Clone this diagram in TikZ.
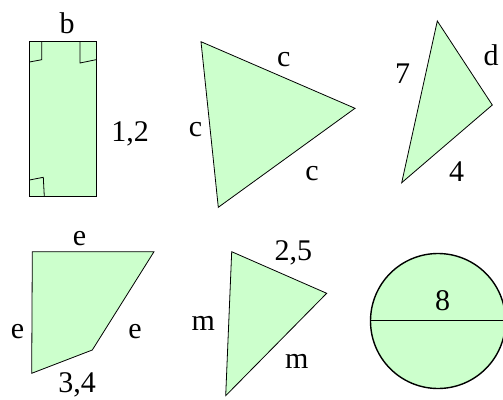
\documentclass[tikz,border=0pt]{standalone}
\usepackage{fontspec}
\setmainfont{Liberation Serif}
\definecolor{paleGreen}{RGB}{204,255,204}
\begin{document}
\begin{tikzpicture}[x=1pt,y=-1pt,
  figshape/.style={draw=black,fill=paleGreen,line width=0.8pt,line join=miter},
  lbl/.style={font=\fontsize{30}{33}\selectfont,inner sep=0pt,anchor=base},
  rmark/.style={draw=black,line width=0.8pt}]
  \useasboundingbox (0,0) rectangle (503,399);
  % rectangle with right angles
  \draw[figshape] (29.5,41.5) rectangle (96,196.5);
  \draw[rmark] (41.7,41.5) -- (41.7,59.7) -- (29.5,62);
  \draw[rmark] (80,41.5) -- (80,63) -- (96,59.7);
  \draw[rmark] (29.5,180) -- (43.3,177.3) -- (44.3,196.5);
  \node[lbl] (lb) at (67,33) {b};
  \node[lbl] (l12) at (130,141.7) {1,2};
  % equilateral triangle
  \draw[figshape] (201,41.7) -- (355,108.3) -- (218.3,207.3) -- cycle;
  \node[lbl] (lc1) at (283.7,66.7) {c};
  \node[lbl] (lc2) at (195.5,136.7) {c};
  \node[lbl] (lc3) at (312,180) {c};
  % scalene triangle
  \draw[figshape] (437.3,21) -- (492.3,105) -- (401.7,182.7) -- cycle;
  \node[lbl] (l7) at (402.5,83.3) {7};
  \node[lbl] (ld) at (491,65) {d};
  \node[lbl] (l4) at (456.7,181.7) {4};
  % quadrilateral
  \draw[figshape] (32.3,251.7) -- (154,251.7) -- (92.3,350) -- (31.7,373.3) -- cycle;
  \node[lbl] (le1) at (79.5,245) {e};
  \node[lbl] (le2) at (17.5,338.3) {e};
  \node[lbl] (le3) at (135,338.3) {e};
  \node[lbl] (l34) at (77,392.5) {3,4};
  % isosceles triangle
  \draw[figshape] (231.7,251.7) -- (326.7,293.3) -- (225.7,395.7) -- cycle;
  \node[lbl] (l25) at (293.3,260) {2,5};
  \node[lbl] (lm1) at (203.3,330) {m};
  \node[lbl] (lm2) at (296.7,368.3) {m};
  % circle with diameter
  \draw[figshape,line width=1.4pt] (438,321) circle (67.5);
  \draw[line width=1.4pt] (370.5,320.7) -- (505.5,320.7);
  \node[lbl] (l8) at (442.5,310) {8};
\end{tikzpicture}
\end{document}
